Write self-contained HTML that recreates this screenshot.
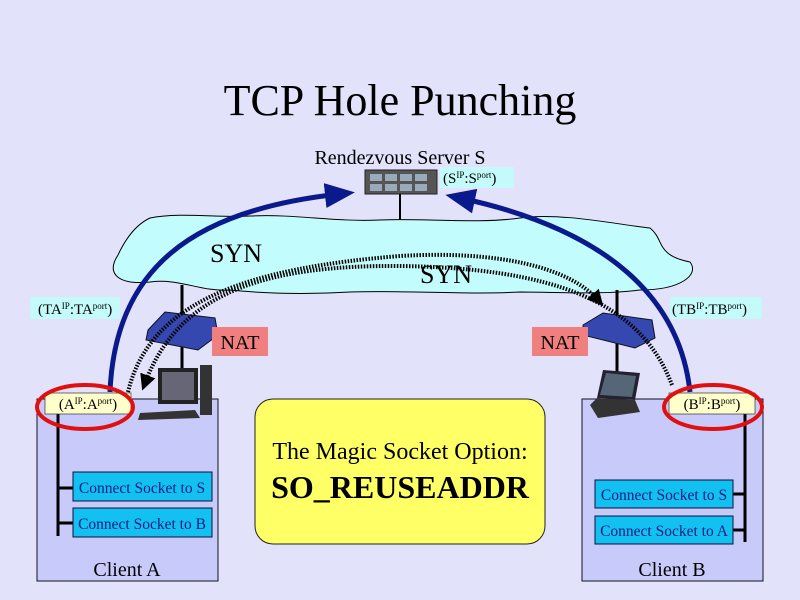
<!DOCTYPE html>
<html><head><meta charset="utf-8"><style>
html,body{margin:0;padding:0;background:#e2e2fa;}
svg{display:block}
text{font-family:"Liberation Serif","Times New Roman",serif;}
</style></head><body>
<svg width="800" height="600" viewBox="0 0 800 600" xmlns="http://www.w3.org/2000/svg">
<defs>
<marker id="ab" markerWidth="6" markerHeight="6" refX="3" refY="3" orient="auto" markerUnits="strokeWidth"><path d="M0,0.5 L6,3 L0,5.5 Z" fill="#0a1a8c"/></marker>
<marker id="ak" markerWidth="4" markerHeight="4" refX="2" refY="2" orient="auto" markerUnits="strokeWidth"><path d="M0,0 L4,2 L0,4 Z" fill="#000"/></marker>
</defs>
<rect width="800" height="600" fill="#e2e2fa"/>
<text x="400" y="115" font-size="44" text-anchor="middle">TCP Hole Punching</text>
<text x="400" y="164" font-size="20" text-anchor="middle">Rendezvous Server S</text>
<!-- server -->
<rect x="365" y="170" width="72" height="24" fill="#555" stroke="#222"/>
<g fill="#9ab">
<rect x="370" y="174" width="12" height="7"/><rect x="385" y="174" width="12" height="7"/><rect x="400" y="174" width="12" height="7"/><rect x="415" y="174" width="12" height="7"/>
<rect x="370" y="184" width="12" height="7"/><rect x="385" y="184" width="12" height="7"/><rect x="400" y="184" width="12" height="7"/><rect x="415" y="184" width="12" height="7"/>
</g>
<rect x="440" y="167" width="74" height="21" fill="#c4fafa"/>
<text x="443" y="183" font-size="15">(S<tspan font-size="9" dy="-5">IP</tspan><tspan dy="5">:S</tspan><tspan font-size="9" dy="-5">port</tspan><tspan dy="5">)</tspan></text>
<line x1="400" y1="194" x2="400" y2="225" stroke="#000" stroke-width="2"/>
<!-- cloud -->
<path d="M150,218 C180,212 220,218 250,216 C300,214 330,222 380,220 C420,218 480,224 520,218 C560,212 620,225 650,228 C665,240 655,255 690,262 C700,275 680,290 640,290 C600,295 560,292 520,292 C470,295 400,290 350,292 C300,295 260,293 230,290 C200,292 180,278 150,282 C120,285 105,275 118,255 C125,240 135,225 150,218 Z" fill="#c2fcfc" stroke="#000" stroke-width="1"/>
<line x1="182" y1="285" x2="182" y2="400" stroke="#000" stroke-width="3"/>
<line x1="617" y1="290" x2="617" y2="400" stroke="#000" stroke-width="3"/>
<!-- clients -->
<rect x="37" y="399" width="181" height="182" fill="#c8cafa" stroke="#112" stroke-width="1"/>
<rect x="582" y="399" width="181" height="182" fill="#c8cafa" stroke="#112" stroke-width="1"/>
<text x="127" y="576" font-size="20" text-anchor="middle">Client A</text>
<text x="672" y="576" font-size="20" text-anchor="middle">Client B</text>
<path d="M58,413 V536 M58,488 H73 M58,523 H73" stroke="#000" stroke-width="3" fill="none"/>
<rect x="73" y="472" width="139" height="29" fill="#12c0f2" stroke="#113"/>
<rect x="73" y="508" width="139" height="29" fill="#12c0f2" stroke="#113"/>
<text x="142" y="493" font-size="15.5" fill="#102080" text-anchor="middle">Connect Socket to S</text>
<text x="142" y="529" font-size="15.5" fill="#102080" text-anchor="middle">Connect Socket to B</text>
<path d="M745,413 V542 M745,494 H733 M745,530 H733" stroke="#000" stroke-width="3" fill="none"/>
<rect x="595" y="480" width="138" height="28" fill="#12c0f2" stroke="#113"/>
<rect x="595" y="516" width="138" height="28" fill="#12c0f2" stroke="#113"/>
<text x="664" y="500" font-size="15.5" fill="#102080" text-anchor="middle">Connect Socket to S</text>
<text x="664" y="536" font-size="15.5" fill="#102080" text-anchor="middle">Connect Socket to A</text>
<!-- yellow box -->
<rect x="255" y="399" width="290" height="145" rx="18" fill="#ffff66" stroke="#222"/>
<text x="400" y="459" font-size="24" text-anchor="middle">The Magic Socket Option:</text>
<text x="400" y="498" font-size="32" font-weight="bold" text-anchor="middle">SO_REUSEADDR</text>
<!-- computer -->
<rect x="158" y="368" width="40" height="36" fill="#222"/><rect x="162" y="372" width="32" height="28" fill="#667"/>
<rect x="200" y="365" width="12" height="50" fill="#333"/>
<path d="M140,413 L195,410 L200,418 L138,420 Z" fill="#333"/>
<!-- laptop -->
<path d="M603,370 L640,373 L635,400 L597,398 Z" fill="#223"/><path d="M606,373 L636,376 L632,397 L600,395 Z" fill="#567"/>
<path d="M590,405 L597,398 L635,400 L640,412 L598,418 Z" fill="#333"/>
<!-- routers -->
<path d="M148,330 L165,312 L215,318 L218,335 L198,350 L146,340 Z" fill="#3548b0" stroke="#112"/>
<path d="M583,325 L603,313 L652,320 L655,338 L635,348 L583,335 Z" fill="#3548b0" stroke="#112"/>
<rect x="212" y="327" width="56" height="29" fill="#f07f7f"/>
<text x="240" y="349" font-size="20" text-anchor="middle">NAT</text>
<rect x="532" y="327" width="56" height="29" fill="#f07f7f"/>
<text x="560" y="349" font-size="20" text-anchor="middle">NAT</text>
<!-- TA/TB labels -->
<rect x="30" y="297" width="90" height="22" fill="#c4fafa"/>
<text x="38" y="314" font-size="15">(TA<tspan font-size="9" dy="-5">IP</tspan><tspan dy="5">:TA</tspan><tspan font-size="9" dy="-5">port</tspan><tspan dy="5">)</tspan></text>
<rect x="670" y="297" width="92" height="22" fill="#c4fafa"/>
<text x="672" y="314" font-size="15">(TB<tspan font-size="9" dy="-5">IP</tspan><tspan dy="5">:TB</tspan><tspan font-size="9" dy="-5">port</tspan><tspan dy="5">)</tspan></text>
<!-- SYN labels -->
<text x="210" y="262" font-size="26">SYN</text>
<text x="420" y="283" font-size="26">SYN</text>
<!-- dotted arrows -->
<path d="M128,392 C150,300 250,268 400,256 C500,250 570,268 598,300" fill="none" stroke="#000" stroke-width="4" stroke-dasharray="1.5 1.5" marker-end="url(#ak)"/>
<path d="M672,385 C640,300 550,268 400,266 C270,265 180,290 145,383" fill="none" stroke="#000" stroke-width="4" stroke-dasharray="1.5 1.5" marker-end="url(#ak)"/>
<!-- blue arrows -->
<path d="M110,392 C115,270 190,210 340,194" fill="none" stroke="#0a1a8c" stroke-width="5" marker-end="url(#ab)"/>
<path d="M690,392 C680,300 610,230 460,198" fill="none" stroke="#0a1a8c" stroke-width="5" marker-end="url(#ab)"/>
<!-- address labels -->
<rect x="45" y="393" width="86" height="21" fill="#ffffcc" stroke="#333" stroke-width="0.7"/>
<text x="88" y="409" font-size="15" text-anchor="middle">(A<tspan font-size="9" dy="-5">IP</tspan><tspan dy="5">:A</tspan><tspan font-size="9" dy="-5">port</tspan><tspan dy="5">)</tspan></text>
<rect x="669" y="393" width="86" height="21" fill="#ffffcc" stroke="#333" stroke-width="0.7"/>
<text x="712" y="409" font-size="15" text-anchor="middle">(B<tspan font-size="9" dy="-5">IP</tspan><tspan dy="5">:B</tspan><tspan font-size="9" dy="-5">port</tspan><tspan dy="5">)</tspan></text>
<ellipse cx="85" cy="407" rx="48" ry="22" fill="none" stroke="#e01010" stroke-width="4"/>
<ellipse cx="713" cy="407" rx="49" ry="22" fill="none" stroke="#e01010" stroke-width="4"/>
</svg>
</body></html>
